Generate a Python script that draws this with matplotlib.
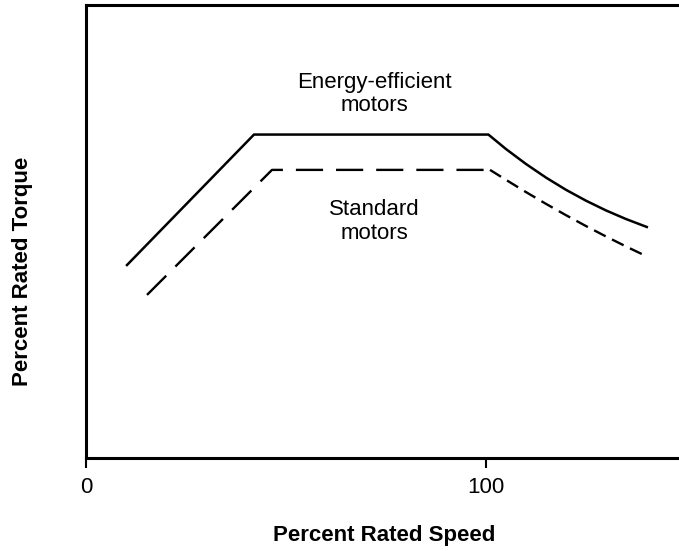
import matplotlib.pyplot as plt

plt.rcParams['font.family'] = ['Liberation Sans', 'DejaVu Sans']

# percent rated speed / percent rated torque (y axis scaled 0..100 to frame)
eff_speed = [10.25, 42.0, 100.6, 105, 110, 115, 120, 125, 130, 135, 140.2]
eff_torque = [42.6, 71.4, 71.4, 68.2, 64.9, 61.9, 59.2, 56.8, 54.65, 52.75, 51.0]

std_speed_a = [15.25, 46.5, 101.0]
std_torque_a = [36.0, 63.6, 63.6]
std_speed_b = [101.0, 105, 110, 115, 120, 125, 130, 135, 140.2]
std_torque_b = [63.6, 61.4, 58.7, 56.1, 53.6, 51.2, 48.9, 46.7, 44.5]

xticks = [0, 100]

fig = plt.figure(figsize=(6.79, 5.51), dpi=100)
ax = fig.add_axes([86 / 679, (551 - 458) / 551, (679 - 86) / 679, 453 / 551])

ax.plot(eff_speed, eff_torque, color='black', lw=1.8, solid_joinstyle='miter')
ax.plot(std_speed_a, std_torque_a, color='black', lw=1.7, dashes=(11.5, 5.5))
ax.plot(std_speed_b, std_torque_b, color='black', lw=1.7, dashes=(5.5, 3))

ax.text(72, 80.3, 'Energy-efficient\nmotors', ha='center', va='center',
        fontsize=16, linespacing=1.15)
ax.text(72, 52.2, 'Standard\nmotors', ha='center', va='center',
        fontsize=16, linespacing=1.15)

ax.set_xlim(0, (679 - 86) / 4)
ax.set_ylim(0, 100)
ax.set_xticks(xticks)
ax.set_xticklabels(['0', '100'], fontsize=16)
ax.set_yticks([])
ax.tick_params(axis='x', direction='out', length=7, width=1.5, pad=7)

for side in ['left', 'bottom', 'top']:
    ax.spines[side].set_linewidth(2.2)
ax.spines['right'].set_visible(False)

fig.text(23 / 679, 1 - 271 / 551, 'Percent Rated Torque', rotation=90,
         ha='center', va='center', fontsize=16, fontweight='bold')
fig.text(384 / 679, 1 - 536 / 551, 'Percent Rated Speed',
         ha='center', va='center', fontsize=16, fontweight='bold')

fig.savefig('out.png', dpi=100)
